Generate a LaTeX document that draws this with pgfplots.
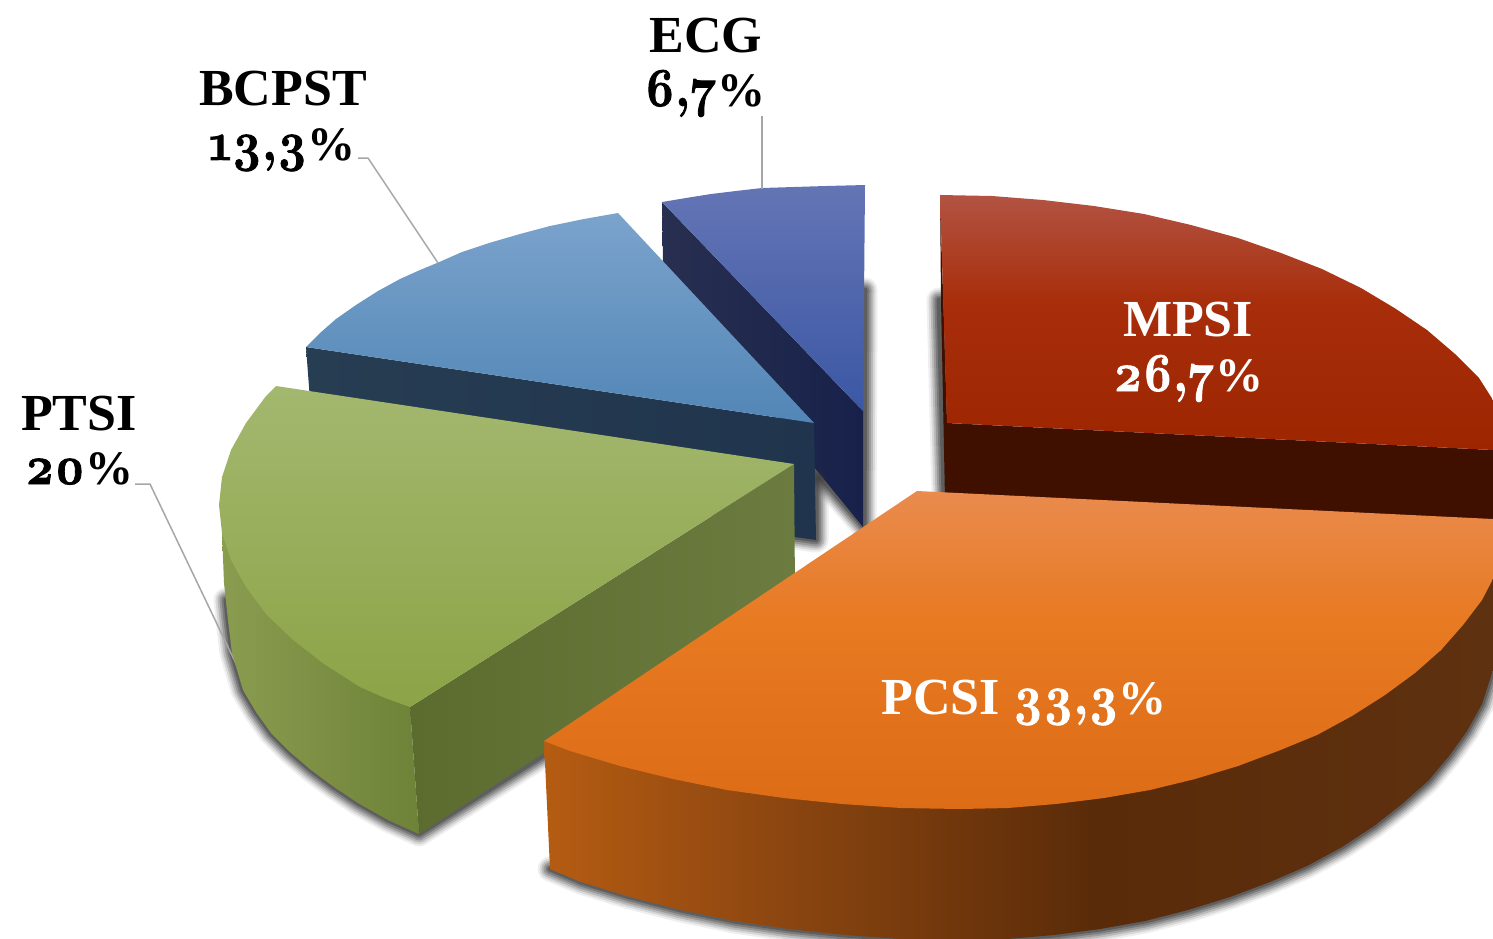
\documentclass[border=0pt]{standalone}
\usepackage{fontspec}
\usepackage{pgfplots}
\pgfplotsset{compat=1.18}
\setmainfont{Liberation Serif}
\newfontfamily\numf[Numbers=OldStyle,Ligatures=TeX,FakeStretch=0.87,FakeBold=1.5]{Latin Modern Roman}
\definecolor{rT}{HTML}{B25343}\definecolor{rM}{HTML}{A82E0B}\definecolor{rB}{HTML}{9D2500}
\definecolor{rS}{HTML}{3F0F00}
\definecolor{oT}{HTML}{E98B4E}\definecolor{oM}{HTML}{E87A22}\definecolor{oB}{HTML}{DC6C16}
\definecolor{oL}{HTML}{B55C12}\definecolor{oC}{HTML}{8A4510}\definecolor{oD}{HTML}{5A2B09}\definecolor{oR}{HTML}{5E3110}
\definecolor{gT}{HTML}{A3B86F}\definecolor{gM}{HTML}{9BB15D}\definecolor{gB}{HTML}{8CA346}
\definecolor{gL}{HTML}{8A9C4F}\definecolor{gR}{HTML}{6E8238}
\definecolor{gdL}{HTML}{5C6C2F}\definecolor{gdR}{HTML}{6C7B3F}
\definecolor{bT}{HTML}{7BA3CC}\definecolor{bM}{HTML}{6598C9}\definecolor{bB}{HTML}{5286B6}
\definecolor{bdL}{HTML}{273D52}\definecolor{bdR}{HTML}{20354D}
\definecolor{eT}{HTML}{6475B5}\definecolor{eM}{HTML}{4761B1}\definecolor{eB}{HTML}{3B57A4}
\definecolor{edL}{HTML}{282F50}\definecolor{edR}{HTML}{17214A}
\definecolor{lead}{HTML}{A6A6A6}
\pgfdeclareverticalshading{redtop}{100bp}{color(0bp)=(rB);color(25bp)=(rB);color(54bp)=(rM);color(75bp)=(rT);color(100bp)=(rT)}
\pgfdeclareverticalshading{orangetop}{100bp}{color(0bp)=(oB);color(25bp)=(oB);color(55bp)=(oM);color(75bp)=(oT);color(100bp)=(oT)}
\pgfdeclarehorizontalshading{orangeside}{100bp}{color(0bp)=(oL);color(25bp)=(oL);color(38bp)=(oC);color(54bp)=(oD);color(75bp)=(oR);color(100bp)=(oR)}
\newcommand\shadowline[1]{%
 \addplot[draw=black!80,line width=25pt,opacity=.08,line join=round,line cap=round] coordinates {#1};
 \addplot[draw=black!80,line width=21pt,opacity=.12,line join=round,line cap=round] coordinates {#1};
 \addplot[draw=black!80,line width=17pt,opacity=.18,line join=round,line cap=round] coordinates {#1};
 \addplot[draw=black!80,line width=13pt,opacity=.24,line join=round,line cap=round] coordinates {#1};
 \addplot[draw=black!80,line width=9pt,opacity=.3,line join=round,line cap=round] coordinates {#1};
 \addplot[draw=black!80,line width=5pt,opacity=.4,line join=round,line cap=round] coordinates {#1};
}
\newcommand\lbl[5]{\node[anchor=base,inner sep=0pt,text=#4] at (axis cs:#1,#2) {\fontsize{#3}{#3}\selectfont\bfseries #5};}
\newcommand\nm[1]{{\fontsize{55}{55}\selectfont\numf #1}}
\newcommand\pc{{\fontsize{48}{48}\selectfont\%}}
\begin{document}
\begin{tikzpicture}
\begin{axis}[width=1493pt,height=938pt,scale only axis,xmin=0,xmax=1493,ymin=0,ymax=938,
  y dir=reverse,hide axis,clip=true,no markers]
% ---- ECG
\shadowline{(865,290) (864,527) (814,470)}
\addplot[draw=none,left color=edL,right color=edR] coordinates {(662,202) (863,411) (863,527) (814,467) (663,262)} -- cycle;
\addplot[draw=none,top color=eT,middle color=eM,bottom color=eB] coordinates {(662,202) (686,198) (711,194) (736,191) (762,188) (794,187) (826,186) (865,185) (863,411)} -- cycle;
% ---- BCPST
\shadowline{(816,480) (816,540) (795,537)}
\addplot[draw=none,left color=bdL,right color=bdR] coordinates {(306,347) (814,423) (816,540) (780,535) (310,400)} -- cycle;
\addplot[draw=none,top color=bT,middle color=bM,bottom color=bB] coordinates {(306,347) (320,333) (336,319) (356,305) (378,291) (400,279) (420,270) (437,263) (462,252) (489,243) (520,234) (550,226) (584,219) (618,213) (814,423)} -- cycle;
% ---- PTSI
\shadowline{(226,600) (228,620) (232,653) (243,690) (256,712) (271,733) (290,752) (311,770) (334,787) (358,803) (388,820) (419,834) (560,745)}
\addplot[draw=lead,line width=1.5pt] coordinates {(135,484) (150,484) (240,672)};
\addplot[draw=none,left color=gL,right color=gR] coordinates {(222,533) (224,583) (228,620) (232,653) (243,690) (256,712) (271,733) (290,752) (311,770) (334,787) (358,803) (388,820) (419,834) (410,707)} -- cycle;
\addplot[draw=none,left color=gdL,right color=gdR] coordinates {(794,464) (410,707) (419,834) (795,590)} -- cycle;
\addplot[draw=none,top color=gT,middle color=gM,bottom color=gB] coordinates {(276,386) (266,396) (246,423) (231,450) (222,477) (219,505) (222,533) (231,560) (246,587) (266,614) (292,639) (324,664) (360,687) (385,698) (410,707) (794,464)} -- cycle;
% ---- MPSI
\shadowline{(939,300) (944,495)}
\addplot[draw=none,fill=rS] coordinates {(940,195) (947,423) (1493,450) (1493,530) (945,500) (941,300)} -- cycle;
\addplot[draw=none,shading=redtop] coordinates {(940,195) (992,196) (1043,200) (1094,206) (1144,214) (1191,225) (1238,238) (1281,253) (1322,269) (1361,288) (1396,309) (1427,330) (1455,354) (1479,378) (1493,400) (1493,450) (947,423)} -- cycle;
% ---- PCSI
\shadowline{(550,869) (581,882) (630,897) (681,910) (734,921) (789,929) (845,935) (900,939) (960,940) (1007,939) (1054,935) (1100,929) (1145,921) (1188,910) (1230,897) (1270,882) (1307,866) (1342,847) (1374,826) (1402,804) (1428,781) (1449,756) (1467,731) (1482,704) (1493,670)}
\addplot[draw=none,shading=orangeside] coordinates {(544,741) (550,869) (581,882) (630,897) (681,910) (734,921) (789,929) (845,935) (900,939) (960,940) (1007,939) (1054,935) (1100,929) (1145,921) (1188,910) (1230,897) (1270,882) (1307,866) (1342,847) (1374,826) (1402,804) (1428,781) (1449,756) (1467,731) (1482,704) (1493,670) (1493,573) (1441,650) (1238,766) (960,809)} -- cycle;
\addplot[draw=none,shading=orangetop] coordinates {(917,491) (1493,519) (1496,573) (1482,600) (1463,625) (1441,650) (1415,673) (1385,695) (1352,716) (1317,735) (1278,751) (1238,766) (1195,779) (1150,790) (1104,798) (1056,804) (1008,808) (960,809) (901,808) (842,804) (784,798) (727,790) (673,779) (620,766) (570,751) (544,741)} -- cycle;
% ---- leaders
\addplot[draw=lead,line width=1.5pt] coordinates {(762,116) (762,189)};
\addplot[draw=lead,line width=1.5pt] coordinates {(358,158) (368,158) (438,263)};
% ---- labels
\lbl{706}{52}{52}{black}{ECG}
\lbl{705}{106}{48}{black}{\nm{6,7}\pc}
\lbl{283}{105}{52}{black}{BCPST}
\lbl{282}{160}{48}{black}{\nm{13,3}\pc}
\lbl{79}{430}{52}{black}{PTSI}
\lbl{79}{484}{48}{black}{\nm{20}\pc}
\lbl{1188}{336}{52}{white}{MPSI}
\lbl{1188}{391}{48}{white}{\nm{26,7}\pc}
\lbl{1024}{714}{52}{white}{PCSI \nm{33,3}\pc}
\end{axis}
\pgfresetboundingbox
\useasboundingbox (current axis.south west) rectangle (current axis.north east);
\end{tikzpicture}
\end{document}
